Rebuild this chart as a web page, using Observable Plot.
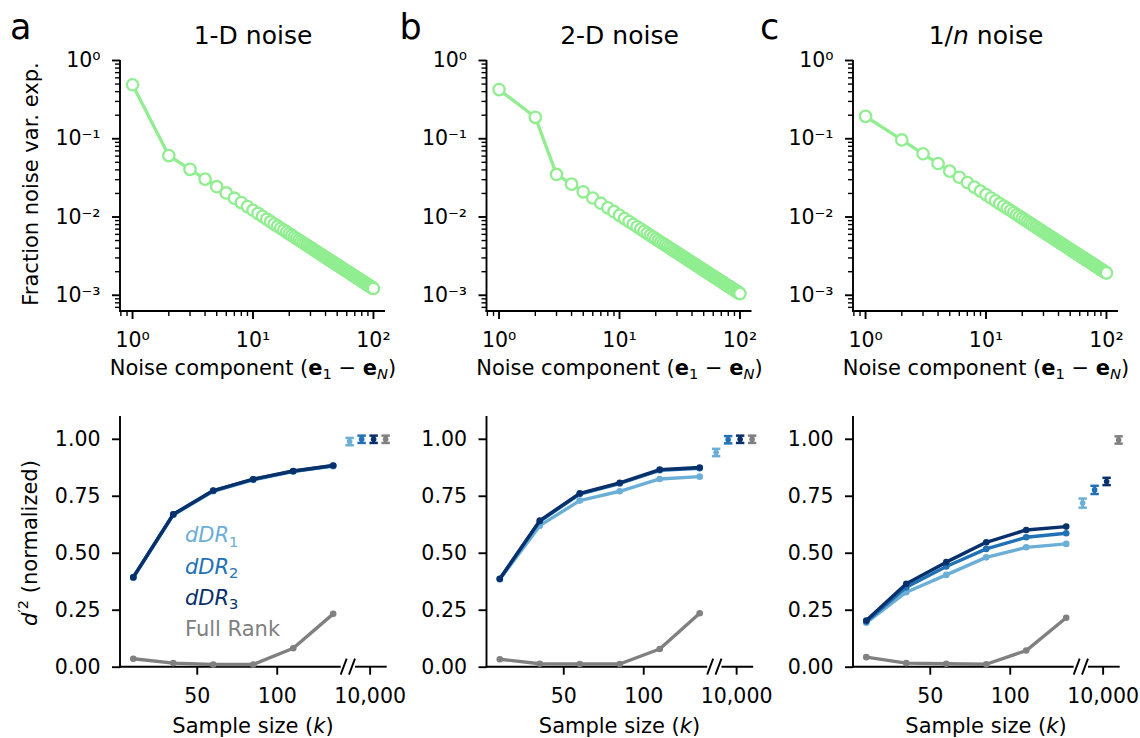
<!DOCTYPE html>
<html><head><meta charset="utf-8">
<script src="https://cdn.jsdelivr.net/npm/d3@7"></script>
<script src="https://cdn.jsdelivr.net/npm/@observablehq/plot@0.6"></script>
<style>
html,body{margin:0;padding:0;background:#fff;}
#fig{position:relative;width:1140px;height:738px;overflow:hidden;font-family:"DejaVu Sans",sans-serif;color:#000;background:#fff;}
#fig svg{position:absolute;left:0;top:0;}
.lab{position:absolute;line-height:0;white-space:nowrap;}
.lab sub,.lab sup{font-size:70%;vertical-align:baseline;position:relative;line-height:0;}
.lab sub{top:0.3em;}
.lab sup{top:-0.6em;}
</style></head><body><div id="fig"></div><script>
// ---------------- DATA ----------------
const panelLetters = ["a", "b", "c"];
const panelTitles = ["1-D noise", "2-D noise", "1/<i>n</i> noise"];

// Fraction of noise variance explained by each noise component e1..e100
const fraction1D = [0.49,0.0610,0.0407,0.0305,0.0244,0.0203,0.0174,0.0153,0.0136,0.0122,0.0111,0.0102,0.00938,0.00871,0.00813,0.00763,0.00718,0.00678,0.00642,0.00610,0.00581,0.00555,0.00530,0.00508,0.00488,0.00469,0.00452,0.00436,0.00421,0.00407,0.00394,0.00381,0.00370,0.00359,0.00349,0.00339,0.00330,0.00321,0.00313,0.00305,0.00298,0.00290,0.00284,0.00277,0.00271,0.00265,0.00260,0.00254,0.00249,0.00244,0.00239,0.00235,0.00230,0.00226,0.00222,0.00218,0.00214,0.00210,0.00207,0.00203,0.00200,0.00197,0.00194,0.00191,0.00188,0.00185,0.00182,0.00179,0.00177,0.00174,0.00172,0.00169,0.00167,0.00165,0.00163,0.00161,0.00158,0.00156,0.00154,0.00153,0.00151,0.00149,0.00147,0.00145,0.00144,0.00142,0.00140,0.00139,0.00137,0.00136,0.00134,0.00133,0.00131,0.00130,0.00128,0.00127,0.00126,0.00124,0.00123,0.00122];
const fraction2D = [0.425,0.188,0.0350,0.0263,0.0210,0.0175,0.0150,0.0131,0.0117,0.0105,0.00955,0.00875,0.00808,0.00750,0.00700,0.00656,0.00618,0.00583,0.00553,0.00525,0.00500,0.00477,0.00457,0.00438,0.00420,0.00404,0.00389,0.00375,0.00362,0.00350,0.00339,0.00328,0.00318,0.00309,0.00300,0.00292,0.00284,0.00276,0.00269,0.00263,0.00256,0.00250,0.00244,0.00239,0.00233,0.00228,0.00223,0.00219,0.00214,0.00210,0.00206,0.00202,0.00198,0.00194,0.00191,0.00188,0.00184,0.00181,0.00178,0.00175,0.00172,0.00169,0.00167,0.00164,0.00162,0.00159,0.00157,0.00154,0.00152,0.00150,0.00148,0.00146,0.00144,0.00142,0.00140,0.00138,0.00136,0.00135,0.00133,0.00131,0.00130,0.00128,0.00127,0.00125,0.00124,0.00122,0.00121,0.00119,0.00118,0.00117,0.00115,0.00114,0.00113,0.00112,0.00111,0.00109,0.00108,0.00107,0.00106,0.00105];
const fraction1n = [0.193,0.0965,0.0643,0.0483,0.0386,0.0322,0.0276,0.0241,0.0214,0.0193,0.0175,0.0161,0.0148,0.0138,0.0129,0.0121,0.0114,0.0107,0.0102,0.00965,0.00919,0.00877,0.00839,0.00804,0.00772,0.00742,0.00715,0.00689,0.00666,0.00643,0.00623,0.00603,0.00585,0.00568,0.00551,0.00536,0.00522,0.00508,0.00495,0.00483,0.00471,0.00460,0.00449,0.00439,0.00429,0.00420,0.00411,0.00402,0.00394,0.00386,0.00378,0.00371,0.00364,0.00357,0.00351,0.00345,0.00339,0.00333,0.00327,0.00322,0.00316,0.00311,0.00306,0.00302,0.00297,0.00292,0.00288,0.00284,0.00280,0.00276,0.00272,0.00268,0.00264,0.00261,0.00257,0.00254,0.00251,0.00247,0.00244,0.00241,0.00238,0.00235,0.00233,0.00230,0.00227,0.00224,0.00222,0.00219,0.00217,0.00214,0.00212,0.00210,0.00208,0.00205,0.00203,0.00201,0.00199,0.00197,0.00195,0.00193];

// Sample sizes and d'^2 (normalized)
const sampleSizes = [10, 35, 60, 85, 110, 135];
const infiniteK = 10000;
const methods = ["dDR1", "dDR2", "dDR3", "Full Rank"];
const methodLabels = ["<i>dDR</i><sub>1</sub>", "<i>dDR</i><sub>2</sub>", "<i>dDR</i><sub>3</sub>", "Full Rank"];
const methodColors = ["#6baed6", "#2171b5", "#08306b", "#808080"];

const dDR1_a = [0.393, 0.668, 0.772, 0.822, 0.858, 0.882];
const dDR2_a = [0.394, 0.670, 0.774, 0.824, 0.860, 0.884];
const dDR3_a = [0.395, 0.671, 0.775, 0.825, 0.861, 0.885];
const fullRank_a = [0.037, 0.018, 0.012, 0.012, 0.083, 0.234];
const asym_a = [0.990, 1.000, 1.000, 1.000];
const asymErr_a = [0.016, 0.016, 0.016, 0.016];

const dDR1_b = [0.385, 0.621, 0.731, 0.772, 0.826, 0.836];
const dDR2_b = [0.387, 0.640, 0.760, 0.806, 0.864, 0.873];
const dDR3_b = [0.388, 0.643, 0.763, 0.809, 0.867, 0.876];
const fullRank_b = [0.035, 0.015, 0.014, 0.014, 0.080, 0.237];
const asym_b = [0.942, 0.998, 1.000, 1.000];
const asymErr_b = [0.016, 0.016, 0.016, 0.016];

const dDR1_c = [0.195, 0.329, 0.405, 0.482, 0.526, 0.541];
const dDR2_c = [0.200, 0.351, 0.442, 0.519, 0.570, 0.588];
const dDR3_c = [0.205, 0.366, 0.461, 0.548, 0.602, 0.617];
const fullRank_c = [0.044, 0.018, 0.015, 0.013, 0.073, 0.217];
const asym_c = [0.720, 0.778, 0.815, 0.997];
const asymErr_c = [0.020, 0.018, 0.016, 0.016];

// Tick values / labels
const topYTicks = [1e-3, 1e-2, 1e-1, 1];
const topYTickLabels = ["10\u207B\u00B3", "10\u207B\u00B2", "10\u207B\u00B9", "10\u2070"];
const topXTicks = [1, 10, 100];
const topXTickLabels = ["10\u2070", "10\u00B9", "10\u00B2"];
const bottomYTicks = [0, 0.25, 0.5, 0.75, 1.0];
const bottomXTicks = [50, 100, 10000];

// ---------------- LAYOUT / SCALES ----------------
const W = 1140, H = 738;
const panelOffsets = [0, 366.5, 733];
const topXDomain = [Math.pow(10, -0.1), Math.pow(10, 2.1)];
const topYDomain = [6.2e-4, 1];
const bottomXDomain = [2, 140, 9940, 10070];     // broken axis (piecewise)
const bottomXRange = [120, 340.7, 355, 386.7];
const bottomYDomain = [0, 1.1];
const errDx = [-20.5, -8.5, 3.5, 15.5];
const green = "#90ee90";
const fig = document.getElementById("fig");
const svgStyle = {background: "transparent", fontFamily: "'DejaVu Sans', sans-serif", fontSize: "20.5px", color: "black", overflow: "visible"};

function minorTicks(domain, majors) {
  return d3.scaleLog().domain(domain).ticks()
    .filter(t => !majors.some(m => Math.abs(Math.log10(t / m)) < 1e-6));
}
function labelOf(ticks, labels) {
  return d => { const i = ticks.findIndex(t => Math.abs(t - d) <= 1e-12 * Math.max(1, Math.abs(t))); return i >= 0 ? labels[i] : ""; };
}

function spines(brk) {
  return (index, scales, values, dim) => {
    const x0 = dim.marginLeft, x1 = dim.width - dim.marginRight;
    const yb = dim.height - dim.marginBottom, yt = dim.marginTop;
    const g = d3.create("svg:g").attr("stroke", "black").attr("stroke-width", 1.9).attr("fill", "none");
    g.append("line").attr("x1", x0).attr("x2", x0).attr("y1", yb + 0.95).attr("y2", yt);
    if (brk) {
      const bx0 = scales.x(brk[0]), bx1 = scales.x(brk[1]);
      g.append("line").attr("x1", x0 - 0.95).attr("x2", bx0).attr("y1", yb).attr("y2", yb);
      g.append("line").attr("x1", bx1).attr("x2", x1).attr("y1", yb).attr("y2", yb);
      g.append("line").attr("x1", bx0).attr("y1", yb + 8).attr("x2", bx0 + 6).attr("y2", yb - 8);
      g.append("line").attr("x1", bx1 - 6).attr("y1", yb + 8).attr("x2", bx1).attr("y2", yb - 8);
    } else {
      g.append("line").attr("x1", x0 - 0.95).attr("x2", x1).attr("y1", yb).attr("y2", yb);
    }
    return g.node();
  };
}

const capSymbol = {draw(context, size) { const r = Math.sqrt(size / Math.PI); context.moveTo(-r, 0); context.lineTo(r, 0); }};

function topPanel(i, values) {
  const ox = panelOffsets[i];
  const rows = values.map((v, j) => ({n: j + 1, v}));
  const plot = Plot.plot({
    width: W, height: H,
    marginLeft: 120 + ox, marginRight: W - (385 + ox), marginTop: 60, marginBottom: H - 311,
    style: svgStyle,
    x: {type: "log", domain: topXDomain, axis: null},
    y: {type: "log", domain: topYDomain, axis: null},
    marks: [
      spines(null),
      Plot.axisX({ticks: minorTicks(topXDomain, topXTicks), tickSize: 5, tickFormat: () => "", strokeWidth: 1.4, label: null}),
      Plot.axisX({ticks: topXTicks, tickSize: 8, tickPadding: 13, strokeWidth: 1.9, tickFormat: labelOf(topXTicks, topXTickLabels), label: null}),
      Plot.axisY({ticks: minorTicks(topYDomain, topYTicks), tickSize: 5, tickFormat: () => "", strokeWidth: 1.4, label: null}),
      Plot.axisY({ticks: topYTicks, tickSize: 8, tickPadding: 12, strokeWidth: 1.9, tickFormat: labelOf(topYTicks, topYTickLabels), label: null}),
      Plot.line(rows, {x: "n", y: "v", stroke: green, strokeWidth: 3.3}),
      Plot.dot(rows, {x: "n", y: "v", r: 5.7, stroke: green, strokeWidth: 2.3, fill: "white"})
    ]
  });
  fig.appendChild(plot);
}

function bottomPanel(i, series, asym, asymErr) {
  const ox = panelOffsets[i];
  const marks = [
    spines([bottomXDomain[1], bottomXDomain[2]]),
    Plot.axisX({ticks: bottomXTicks, tickSize: 8, tickPadding: 13, strokeWidth: 1.9, tickFormat: d3.format(","), label: null}),
    Plot.axisY({ticks: bottomYTicks, tickSize: 8, tickPadding: 12, strokeWidth: 1.9, tickFormat: d3.format(".2f"), label: null})
  ];
  series.forEach((vals, j) => {
    const rows = sampleSizes.map((k, m) => ({k, v: vals[m]}));
    marks.push(Plot.line(rows, {x: "k", y: "v", stroke: methodColors[j], strokeWidth: 3.4}));
    marks.push(Plot.dot(rows, {x: "k", y: "v", r: 3.3, fill: methodColors[j]}));
  });
  methods.forEach((m, j) => {
    const row = {k: infiniteK, v: asym[j], lo: asym[j] - asymErr[j], hi: asym[j] + asymErr[j]};
    const c = methodColors[j], dx = errDx[j];
    marks.push(Plot.ruleX([row], {x: "k", y1: "lo", y2: "hi", stroke: c, strokeWidth: 2.8, dx}));
    marks.push(Plot.dot([row], {x: "k", y: "lo", symbol: capSymbol, r: 4.2, stroke: c, fill: "none", strokeWidth: 2.5, dx}));
    marks.push(Plot.dot([row], {x: "k", y: "hi", symbol: capSymbol, r: 4.2, stroke: c, fill: "none", strokeWidth: 2.5, dx}));
    marks.push(Plot.dot([row], {x: "k", y: "v", r: 2.8, fill: c, dx}));
  });
  const plot = Plot.plot({
    width: W, height: H,
    marginLeft: 120 + ox, marginRight: W - (386.7 + ox), marginTop: 416, marginBottom: H - 666.7,
    style: svgStyle,
    x: {type: "linear", domain: bottomXDomain, range: bottomXRange.map(r => r + ox), axis: null},
    y: {domain: bottomYDomain, axis: null},
    marks
  });
  fig.appendChild(plot);
}

topPanel(0, fraction1D);
topPanel(1, fraction2D);
topPanel(2, fraction1n);
bottomPanel(0, [dDR1_a, dDR2_a, dDR3_a, fullRank_a], asym_a, asymErr_a);
bottomPanel(1, [dDR1_b, dDR2_b, dDR3_b, fullRank_b], asym_b, asymErr_b);
bottomPanel(2, [dDR1_c, dDR2_c, dDR3_c, fullRank_c], asym_c, asymErr_c);

// ---------------- TEXT ----------------
function label(html, x, y, size, opts = {}) {
  const d = document.createElement("div");
  d.className = "lab";
  d.innerHTML = html;
  d.style.fontSize = size + "px";
  d.style.color = opts.color || "#000";
  d.style.left = x + "px";
  if (opts.rotate) {
    d.style.top = y + "px";
    d.style.transform = "translate(-50%,0) rotate(-90deg)";
  } else {
    d.style.top = (y - 0.346 * size) + "px";
    if (opts.anchor === "middle") d.style.transform = "translate(-50%,0)";
  }
  fig.appendChild(d);
}
const letterX = [10, 399.5, 760];
panelLetters.forEach((t, i) => label(t, letterX[i], 39, 35));
panelTitles.forEach((t, i) => label(t, 253 + panelOffsets[i], 45, 25, {anchor: "middle"}));
panelOffsets.forEach(ox => {
  label("Noise component (<b>e</b><sub>1</sub> \u2212 <b>e</b><sub><i>N</i></sub>)", 253 + ox, 375, 21, {anchor: "middle"});
  label("Sample size (<i>k</i>)", 253 + ox, 733, 21, {anchor: "middle"});
});
label("Fraction noise var. exp.", 31, 184, 21, {rotate: true});
label("<i>d</i><sup>\u20322</sup> (normalized)", 31, 542, 21, {rotate: true});
const legendBaselines = [542.7, 574, 605, 636.7];
methodLabels.forEach((t, j) => label(t, 185, legendBaselines[j], 21, {color: methodColors[j]}));
</script></body></html>
